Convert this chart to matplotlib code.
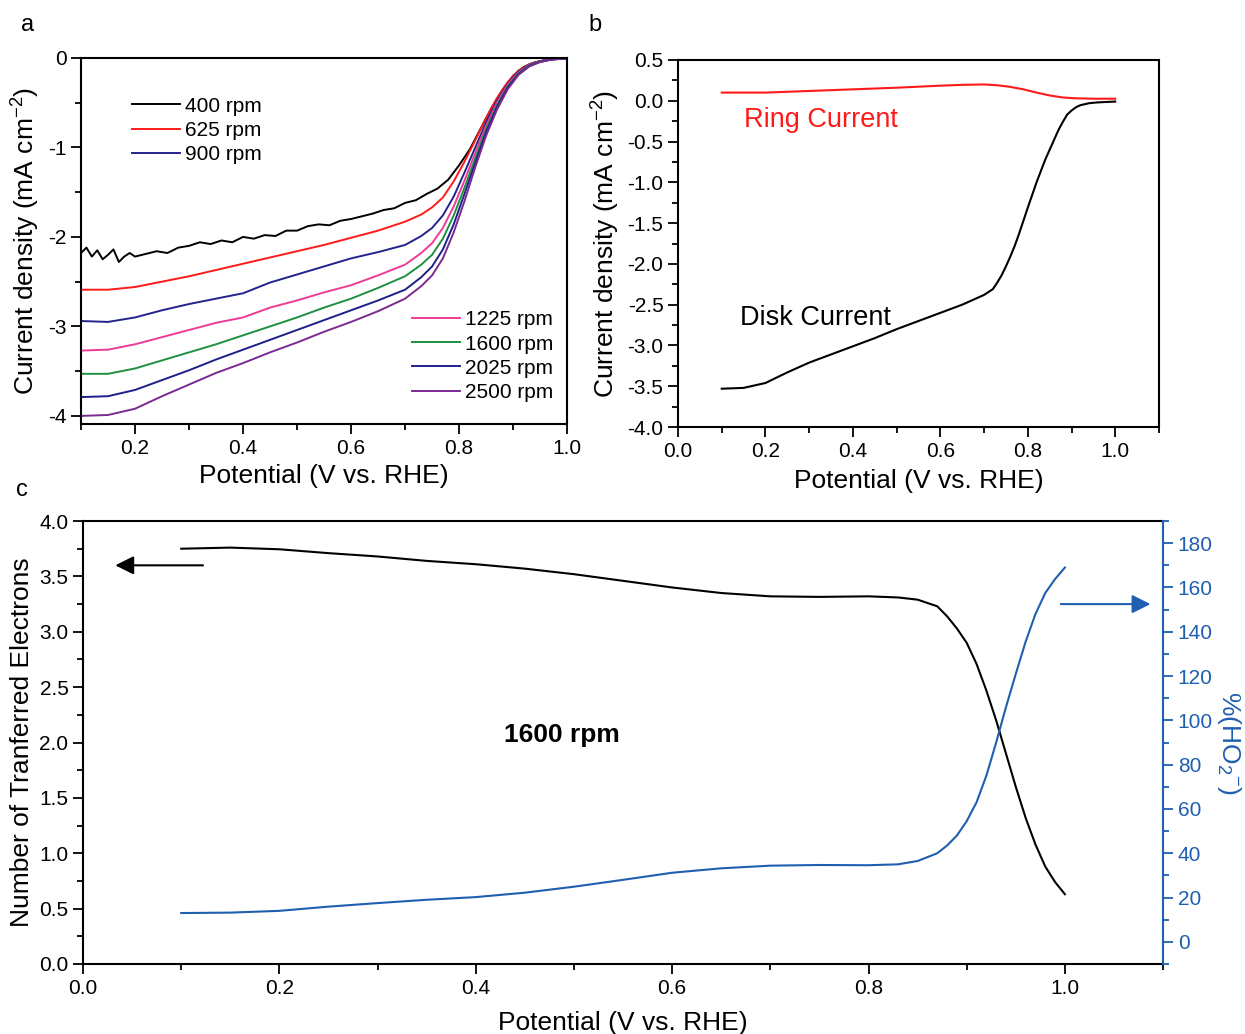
import matplotlib
matplotlib.use('Agg')
import matplotlib.pyplot as plt
from matplotlib.ticker import MultipleLocator

plt.rcParams['font.family'] = ['Liberation Sans', 'DejaVu Sans']
plt.rcParams['mathtext.fontset'] = 'custom'
plt.rcParams['mathtext.rm'] = 'Liberation Sans'
plt.rcParams['mathtext.it'] = 'Liberation Sans:italic'
plt.rcParams['mathtext.bf'] = 'Liberation Sans:bold'
plt.rcParams['mathtext.default'] = 'regular'
plt.rcParams['axes.unicode_minus'] = False

# ---- panel a : LSV at different rotation rates ----
x_400 = [0.10, 0.11, 0.12, 0.13, 0.14, 0.15, 0.16, 0.17, 0.18, 0.19, 0.20,
         0.22, 0.24, 0.26, 0.28, 0.30, 0.32, 0.34, 0.36, 0.38, 0.40, 0.42,
         0.44, 0.46, 0.48, 0.50, 0.52, 0.54, 0.56, 0.58, 0.60, 0.62, 0.64,
         0.66, 0.68, 0.70, 0.72, 0.74, 0.76, 0.78, 0.80, 0.82, 0.84, 0.86,
         0.88, 0.90, 0.92, 0.94, 0.96, 0.98, 1.00]
j_400 = [-2.18, -2.12, -2.22, -2.15, -2.25, -2.20, -2.14, -2.28, -2.22, -2.18, -2.22,
         -2.19, -2.16, -2.18, -2.12, -2.10, -2.06, -2.08, -2.04, -2.06, -2.00, -2.02,
         -1.98, -1.99, -1.93, -1.93, -1.88, -1.86, -1.87, -1.82, -1.80, -1.77, -1.74,
         -1.70, -1.68, -1.62, -1.59, -1.52, -1.46, -1.36, -1.20, -1.02, -0.79, -0.56,
         -0.36, -0.20, -0.10, -0.05, -0.025, -0.01, -0.005]

x_rpm = [0.10, 0.15, 0.20, 0.25, 0.30, 0.35, 0.40, 0.45, 0.50, 0.55, 0.60, 0.65,
         0.70, 0.73, 0.75, 0.77, 0.79, 0.81, 0.83, 0.85, 0.87, 0.89, 0.91, 0.93,
         0.95, 0.97, 1.00]
j_625 = [-2.59, -2.59, -2.56, -2.50, -2.44, -2.37, -2.30, -2.23, -2.16, -2.09, -2.01, -1.93,
         -1.83, -1.75, -1.67, -1.56, -1.38, -1.16, -0.92, -0.67, -0.45, -0.27, -0.14, -0.07,
         -0.035, -0.015, -0.005]
j_900 = [-2.94, -2.95, -2.90, -2.82, -2.75, -2.69, -2.63, -2.51, -2.42, -2.33, -2.24, -2.17,
         -2.09, -1.99, -1.90, -1.76, -1.55, -1.28, -1.00, -0.72, -0.48, -0.29, -0.15, -0.075,
         -0.035, -0.015, -0.005]
j_1225 = [-3.27, -3.26, -3.20, -3.12, -3.04, -2.96, -2.90, -2.79, -2.71, -2.62, -2.54, -2.43,
          -2.31, -2.18, -2.07, -1.90, -1.66, -1.37, -1.06, -0.76, -0.50, -0.30, -0.16, -0.08,
          -0.04, -0.015, -0.005]
j_1600 = [-3.53, -3.53, -3.47, -3.38, -3.29, -3.20, -3.10, -3.00, -2.90, -2.79, -2.69, -2.57,
          -2.44, -2.31, -2.20, -2.02, -1.76, -1.45, -1.12, -0.80, -0.53, -0.32, -0.17, -0.085,
          -0.04, -0.015, -0.005]
j_2025 = [-3.79, -3.78, -3.71, -3.60, -3.49, -3.37, -3.26, -3.15, -3.04, -2.93, -2.82, -2.71,
          -2.59, -2.45, -2.33, -2.14, -1.86, -1.52, -1.17, -0.83, -0.55, -0.33, -0.18, -0.09,
          -0.045, -0.02, -0.005]
j_2500 = [-4.00, -3.99, -3.92, -3.78, -3.65, -3.52, -3.41, -3.29, -3.18, -3.06, -2.95, -2.83,
          -2.69, -2.55, -2.43, -2.24, -1.95, -1.60, -1.22, -0.87, -0.58, -0.35, -0.19, -0.095,
          -0.045, -0.02, -0.005]

rpm_labels = ['400 rpm', '625 rpm', '900 rpm', '1225 rpm', '1600 rpm', '2025 rpm', '2500 rpm']
rpm_colors = ['#000000', '#ff1a1a', '#23238e', '#ee3b95', '#1e9040', '#1f1f8a', '#7b2a90']

# ---- panel b : RRDE disk and ring currents ----
x_disk = [0.10, 0.15, 0.20, 0.25, 0.30, 0.35, 0.40, 0.45, 0.50, 0.55, 0.60, 0.65, 0.70,
          0.72, 0.73, 0.74, 0.75, 0.76, 0.77, 0.78, 0.80, 0.82, 0.84, 0.86, 0.87, 0.88,
          0.89, 0.90, 0.91, 0.92, 0.94, 0.96, 1.00]
j_disk = [-3.53, -3.52, -3.46, -3.33, -3.21, -3.11, -3.01, -2.91, -2.80, -2.70, -2.60, -2.50, -2.38,
          -2.31, -2.23, -2.14, -2.03, -1.91, -1.78, -1.63, -1.31, -1.00, -0.72, -0.48, -0.36, -0.26,
          -0.17, -0.12, -0.08, -0.055, -0.03, -0.02, -0.01]
x_ring = [0.10, 0.20, 0.30, 0.40, 0.50, 0.60, 0.65, 0.70, 0.73, 0.76, 0.79, 0.82, 0.85,
          0.88, 0.91, 0.95, 1.00]
j_ring = [0.10, 0.10, 0.12, 0.14, 0.16, 0.185, 0.195, 0.20, 0.19, 0.17, 0.14, 0.10, 0.065,
          0.04, 0.03, 0.025, 0.025]

# ---- panel c : electron number and peroxide yield at 1600 rpm ----
x_c = [0.10, 0.15, 0.20, 0.25, 0.30, 0.35, 0.40, 0.45, 0.50, 0.55, 0.60, 0.65, 0.70, 0.75,
       0.80, 0.83, 0.85, 0.87, 0.88, 0.89, 0.90, 0.91, 0.92, 0.93, 0.94, 0.95, 0.96, 0.97,
       0.98, 0.99, 1.00]
n_e = [3.75, 3.76, 3.745, 3.71, 3.68, 3.64, 3.61, 3.57, 3.52, 3.46, 3.40, 3.35, 3.32, 3.315,
       3.32, 3.31, 3.29, 3.23, 3.14, 3.03, 2.90, 2.71, 2.47, 2.20, 1.90, 1.60, 1.32, 1.08,
       0.88, 0.74, 0.63]
ho2 = [13.0, 13.2, 14.0, 15.9, 17.5, 19.0, 20.2, 22.2, 24.9, 28.0, 31.2, 33.2, 34.4, 34.7,
       34.6, 35.0, 36.5, 40.0, 43.5, 48.0, 54.5, 63.0, 75.0, 90.0, 106.0, 121.0, 135.5, 148.0,
       157.5, 163.8, 169.0]

blue = '#1f5fb0'


def style(ax, xmaj, xmin, ymaj, ymin):
    ax.xaxis.set_major_locator(MultipleLocator(xmaj))
    ax.xaxis.set_minor_locator(MultipleLocator(xmin))
    ax.yaxis.set_major_locator(MultipleLocator(ymaj))
    ax.yaxis.set_minor_locator(MultipleLocator(ymin))
    ax.tick_params(which='both', direction='out', top=False, right=False,
                   labelsize=15, width=1.3)
    ax.tick_params(which='major', length=7)
    ax.tick_params(which='minor', length=4)
    for s in ax.spines.values():
        s.set_linewidth(1.5)


fig = plt.figure(figsize=(12.45, 10.34), dpi=100)
ax_a = fig.add_axes([0.0651, 0.590, 0.3904, 0.354])
ax_b = fig.add_axes([0.5446, 0.587, 0.3863, 0.355])
ax_c = fig.add_axes([0.0667, 0.0677, 0.8675, 0.4284])

# panel a
curves = [(x_400, j_400), (x_rpm, j_625), (x_rpm, j_900), (x_rpm, j_1225),
          (x_rpm, j_1600), (x_rpm, j_2025), (x_rpm, j_2500)]
lines = []
for (xx, yy), lab, col in zip(curves, rpm_labels, rpm_colors):
    ln, = ax_a.plot(xx, yy, color=col, lw=1.4, label=lab)
    lines.append(ln)
ax_a.set_xlim(0.1, 1.0)
ax_a.set_ylim(-4.09, 0)
style(ax_a, 0.2, 0.1, 1, 0.5)
ax_a.set_xlabel('Potential (V vs. RHE)', fontsize=19, labelpad=5)
ax_a.set_ylabel('Current density (mA cm$^{-2}$)', fontsize=19, labelpad=4)
leg1 = ax_a.legend(handles=lines[:3], loc='upper left', bbox_to_anchor=(0.105, 0.894),
                   frameon=False, fontsize=15, handlelength=2.3, handletextpad=0.25,
                   labelspacing=0.25, borderpad=0, borderaxespad=0)
ax_a.add_artist(leg1)
ax_a.legend(handles=lines[3:], loc='lower left', bbox_to_anchor=(0.681, 0.06),
            frameon=False, fontsize=15, handlelength=2.3, handletextpad=0.25,
            labelspacing=0.25, borderpad=0, borderaxespad=0)

# panel b
ax_b.plot(x_ring, j_ring, color='#ff1a1a', lw=1.5)
ax_b.plot(x_disk, j_disk, color='black', lw=1.5)
ax_b.set_xlim(0, 1.1)
ax_b.set_ylim(-4.0, 0.5)
style(ax_b, 0.2, 0.1, 0.5, 0.25)
ax_b.set_xlabel('Potential (V vs. RHE)', fontsize=19, labelpad=6)
ax_b.set_ylabel('Current density (mA cm$^{-2}$)', fontsize=19, labelpad=4)
ax_b.text(0.15, -0.235, 'Ring Current', color='#ff1a1a', fontsize=19.5, va='center')
ax_b.text(0.142, -2.66, 'Disk Current', color='black', fontsize=19.5, va='center')

# panel c
ax_c.plot(x_c, n_e, color='black', lw=1.5)
ax_c.set_xlim(0, 1.1)
ax_c.set_ylim(0, 4.0)
style(ax_c, 0.2, 0.1, 0.5, 0.25)
ax_c.spines['right'].set_visible(False)
ax_c.set_xlabel('Potential (V vs. RHE)', fontsize=19, labelpad=10)
ax_c.set_ylabel('Number of Tranferred Electrons', fontsize=19, labelpad=4)
ax_c.text(0.488, 2.07, '1600 rpm', fontsize=19, fontweight='bold', ha='center', va='center')
ax_c.annotate('', xy=(0.030, 3.60), xytext=(0.125, 3.60),
              arrowprops=dict(arrowstyle='-|>', color='black', lw=1.5, mutation_scale=28))
ax_c.annotate('', xy=(1.090, 3.25), xytext=(0.993, 3.25),
              arrowprops=dict(arrowstyle='-|>', color=blue, lw=1.5, mutation_scale=28))

ax_r = ax_c.twinx()
ax_r.plot(x_c, ho2, color=blue, lw=1.5)
ax_r.set_ylim(-10, 190)
ax_r.yaxis.set_major_locator(MultipleLocator(20))
ax_r.yaxis.set_minor_locator(MultipleLocator(10))
for side in ['left', 'top', 'bottom']:
    ax_r.spines[side].set_visible(False)
ax_r.spines['right'].set_color(blue)
ax_r.spines['right'].set_linewidth(1.5)
ax_r.tick_params(which='both', direction='out', colors=blue, labelsize=15, width=1.3)
ax_r.tick_params(which='major', length=7)
ax_r.tick_params(which='minor', length=4)
ax_r.set_ylabel('%(HO$_2$$^{-}$)', color=blue, fontsize=19, rotation=270, labelpad=22)

# panel letters
fig.text(0.017, 0.976, 'a', fontsize=17, va='center')
fig.text(0.473, 0.976, 'b', fontsize=17, va='center')
fig.text(0.013, 0.526, 'c', fontsize=17, va='center')

fig.savefig('out.png', dpi=100)
